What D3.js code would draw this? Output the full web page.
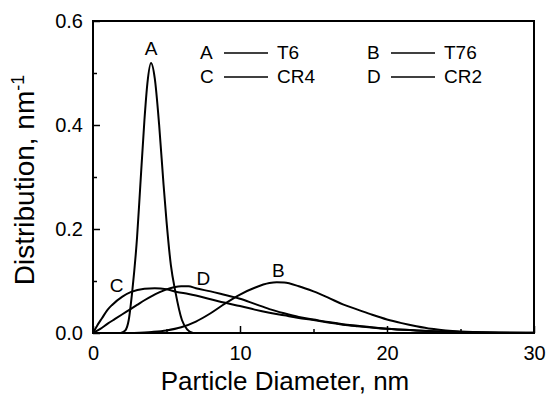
<!DOCTYPE html>
<html>
<head>
<meta charset="utf-8">
<script src="https://cdn.jsdelivr.net/npm/d3@7"></script>
<style>
  body { margin: 0; background: #fff; }
  text { font-family: Arial, "Liberation Sans", sans-serif; fill: #000; }
</style>
</head>
<body>
<script>
// curve samples
var aX = [1.9, 2.2, 2.43, 2.68, 3.0, 3.2, 3.5, 3.7, 3.95, 4.2, 4.5, 4.8, 5.0, 5.3, 5.6, 6.05, 6.4, 6.8]
var aY = [0, 0.005, 0.025, 0.083, 0.185, 0.275, 0.41, 0.48, 0.519, 0.49, 0.40, 0.285, 0.215, 0.13, 0.08, 0.025, 0.007, 0]

var bX = [2.8, 4, 5, 6, 7, 8, 9, 10, 11, 12, 12.5, 13, 14, 15, 16, 17, 18, 19, 20, 21, 22, 23, 24, 25, 27, 30]
var bY = [0, 0.002, 0.005, 0.011, 0.022, 0.038, 0.057, 0.074, 0.087, 0.096, 0.0975, 0.097, 0.090, 0.080, 0.068, 0.055, 0.045, 0.035, 0.026, 0.019, 0.013, 0.008, 0.005, 0.003, 0.001, 0]

var cX = [0, 0.3, 0.6, 1.0, 1.3, 2.0, 2.6, 3.5, 4.2, 5.0, 5.7, 6.5, 7, 8, 9, 10, 11, 12, 13, 14, 15, 16, 17, 18, 20, 22, 25, 30]
var cY = [0, 0.015, 0.028, 0.045, 0.054, 0.070, 0.079, 0.085, 0.086, 0.084, 0.079, 0.075, 0.072, 0.065, 0.058, 0.052, 0.045, 0.039, 0.034, 0.029, 0.025, 0.020, 0.016, 0.013, 0.008, 0.005, 0.002, 0.0003]

var dX = [0, 0.5, 1, 1.5, 2, 2.5, 3, 3.5, 4, 4.5, 5, 5.5, 6, 6.5, 7, 8, 9, 10, 11, 12, 13, 14, 15, 16, 17, 18, 20, 22, 25, 30]
var dY = [0, 0.008, 0.018, 0.027, 0.036, 0.045, 0.054, 0.063, 0.071, 0.078, 0.084, 0.088, 0.090, 0.090, 0.086, 0.080, 0.073, 0.066, 0.056, 0.046, 0.038, 0.031, 0.026, 0.021, 0.017, 0.014, 0.008, 0.005, 0.002, 0.0003]

var xMajor = [0, 10, 20, 30]
var xMinor = [5, 15, 25]
var yMajor = [0, 0.2, 0.4, 0.6]
var yMinor = [0.1, 0.3, 0.5]

// labels on the curves
var curveLabels = [
  {t: "A", x: 3.95, y: 0.535},
  {t: "B", x: 12.6, y: 0.107},
  {t: "C", x: 1.6, y: 0.079},
  {t: "D", x: 7.5, y: 0.092}
]
var legendRows = [["A", "T6", "B", "T76"], ["C", "CR4", "D", "CR2"]]

var W = 546, H = 395
var mL = 93, mR = 534, mT = 21, mB = 333

var svg = d3.select("body")
      .append("svg")
      .attr("width", W)
      .attr("height", H)

var x = d3.scaleLinear().domain([0, 30]).range([mL, mR])
var y = d3.scaleLinear().domain([0, 0.6]).range([mB, mT])

var line = d3.line()
  .x(function(d){ return x(d[0]) })
  .y(function(d){ return y(d[1]) })
  .curve(d3.curveMonotoneX)

var series = [[aX, aY], [bX, bY], [cX, cY], [dX, dY]]
series.forEach(function(s){
  svg.append("path")
    .attr("d", line(d3.zip(s[0], s[1])))
    .attr("fill", "none")
    .attr("stroke", "#000")
    .attr("stroke-width", 2)
})

// axes, ticks inward
var xAx = svg.append("g").attr("transform", "translate(0," + mB + ")")
  .call(d3.axisBottom(x).tickValues(xMajor).tickSizeInner(-7).tickSizeOuter(0).tickPadding(13).tickFormat(d3.format("d")))
xAx.append("g").call(d3.axisBottom(x).tickValues(xMinor).tickSizeInner(-4).tickSizeOuter(0).tickFormat(""))

var yAx = svg.append("g").attr("transform", "translate(" + mL + ",0)")
  .call(d3.axisLeft(y).tickValues(yMajor).tickSizeInner(-7).tickSizeOuter(0).tickPadding(10).tickFormat(d3.format(".1f")))
yAx.append("g").call(d3.axisLeft(y).tickValues(yMinor).tickSizeInner(-4).tickSizeOuter(0).tickFormat(""))

svg.selectAll(".domain").remove()
svg.selectAll(".tick line").attr("stroke", "#000").attr("stroke-width", 1.5)
svg.selectAll(".tick text").style("font-size", "20px").attr("fill", "#000")

svg.append("rect")
  .attr("x", mL).attr("y", mT)
  .attr("width", mR - mL).attr("height", mB - mT)
  .attr("fill", "none").attr("stroke", "#000").attr("stroke-width", 2)

// axis titles
svg.append("text")
  .attr("x", 285).attr("y", 390)
  .attr("text-anchor", "middle")
  .style("font-size", "26px")
  .text("Particle Diameter, nm")

var yt = svg.append("text")
  .attr("transform", "translate(34,180) rotate(-90)")
  .attr("text-anchor", "middle")
  .style("font-size", "28px")
yt.append("tspan").text("Distribution, nm")
yt.append("tspan").attr("dy", -10).style("font-size", "18px").text("-1")

svg.selectAll(".clab")
  .data(curveLabels)
  .enter().append("text")
  .attr("x", function(d){ return x(d.x) })
  .attr("y", function(d){ return y(d.y) })
  .attr("text-anchor", "middle")
  .style("font-size", "19px")
  .text(function(d){ return d.t })

// legend
var lg = svg.append("g")
legendRows.forEach(function(r, i){
  var by = 59 + i * 24
  var cols = [200, 367]
  for (var k = 0; k < 2; k++) {
    var cx = cols[k]
    lg.append("text").attr("x", cx).attr("y", by).style("font-size", "19px").text(r[k * 2])
    lg.append("line")
      .attr("x1", cx + 24).attr("x2", cx + 68)
      .attr("y1", by - 6).attr("y2", by - 6)
      .attr("stroke", "#000").attr("stroke-width", 1.5)
    lg.append("text").attr("x", cx + 77).attr("y", by).style("font-size", "19px").text(r[k * 2 + 1])
  }
})
</script>
</body>
</html>
